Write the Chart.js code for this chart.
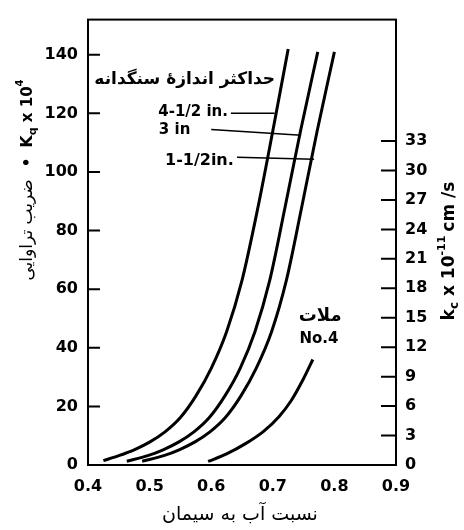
<!DOCTYPE html>
<html>
<head>
<meta charset="utf-8">
<script src="https://cdn.jsdelivr.net/npm/chart.js@4.4.0/dist/chart.umd.min.js"></script>
<style>
  html, body { margin: 0; padding: 0; background: #fff; }
</style>
</head>
<body>
<canvas id="grafica" width="464" height="530"></canvas>
<script>
// valores (relacion agua/cemento vs Kq x 10^4)
var aguaCemento412 = [0.425, 0.45, 0.475, 0.50, 0.525, 0.55, 0.575, 0.60, 0.625, 0.65, 0.675, 0.70, 0.725]
var kq412 = [1.5, 3.2, 5.2, 7.8, 11.3, 16.2, 23.5, 33, 45.5, 63, 87, 114, 142]

var aguaCemento3 = [0.463, 0.497, 0.522, 0.547, 0.572, 0.597, 0.622, 0.647, 0.671, 0.695, 0.719, 0.745, 0.773]
var kq3 = [1.3, 3.2, 5.2, 7.8, 11.3, 16.2, 23.5, 33, 45.5, 63, 87, 114, 141]

var aguaCemento112 = [0.488, 0.523, 0.548, 0.573, 0.598, 0.623, 0.648, 0.673, 0.698, 0.722, 0.746, 0.772, 0.80]
var kq112 = [1.3, 3.2, 5.2, 7.8, 11.3, 16.2, 23.5, 33, 45.5, 63, 87, 114, 141]

var aguaCementoMortero = [0.595, 0.625, 0.655, 0.685, 0.71, 0.73, 0.75, 0.765]
var kqMortero = [1.2, 3.8, 7.2, 11.5, 16.5, 22, 29.5, 36]

// lineas guia de las etiquetas
var guia412X = [0.632, 0.703]
var guia412Y = [120, 120]
var guia3X = [0.60, 0.746]
var guia3Y = [114.5, 112.5]
var guia112X = [0.642, 0.767]
var guia112Y = [105, 104.3]

var ticksX = [0.4, 0.5, 0.6, 0.7, 0.8, 0.9]
var ticksKq = [0, 20, 40, 60, 80, 100, 120, 140]
var ticksKc = [0, 3, 6, 9, 12, 15, 18, 21, 24, 27, 30, 33]

var KQ_MAX = 152
var FACTOR_KC = 3.35

var FUENTE = "'DejaVu Sans', sans-serif"

function puntos(xs, ys) {
    var r = []
    for (let i = 0; i < xs.length; i++) {
        r.push({x: xs[i], y: ys[i]})
    }
    return r
}

function curva(xs, ys) {
    return {
        data: puntos(xs, ys),
        showLine: true,
        borderColor: '#000',
        borderWidth: 3,
        pointRadius: 0,
        cubicInterpolationMode: 'monotone',
        yAxisID: 'y'
    }
}

function guia(xs, ys) {
    return {
        data: puntos(xs, ys),
        showLine: true,
        borderColor: '#000',
        borderWidth: 1.5,
        pointRadius: 0,
        tension: 0,
        yAxisID: 'y'
    }
}

var etiquetas = [
    {texto: 'حداکثر اندازهٔ سنگدانه', x: 0.557, y: 131.5, alinear: 'center', tam: 17, peso: 'bold'},
    {texto: '4-1/2 in.', x: 0.514, y: 120.5, alinear: 'left', tam: 15, peso: 'bold'},
    {texto: '3 in', x: 0.515, y: 114.4, alinear: 'left', tam: 15, peso: 'bold'},
    {texto: '1-1/2in.', x: 0.525, y: 103.8, alinear: 'left', tam: 16, peso: 'bold'},
    {texto: 'ملات', x: 0.777, y: 50.8, alinear: 'center', tam: 18, peso: 'bold'},
    {texto: 'No.4', x: 0.775, y: 43, alinear: 'center', tam: 15, peso: 'bold'}
]

function dibujarPiezas(ctx, piezas, cx, cy) {
    var total = 0
    piezas.forEach(p => {
        ctx.font = (p.peso || 'bold') + ' ' + p.tam + 'px ' + FUENTE
        p.ancho = ctx.measureText(p.texto).width
        total += p.ancho + (p.hueco || 0)
    })
    var x = cx - total / 2
    piezas.forEach(p => {
        ctx.font = (p.peso || 'bold') + ' ' + p.tam + 'px ' + FUENTE
        ctx.fillText(p.texto, x, cy + (p.dy || 0))
        x += p.ancho + (p.hueco || 0)
    })
}

var marcoYTextos = {
    id: 'marcoYTextos',
    afterDraw: function (chart) {
        var ctx = chart.ctx
        var area = chart.chartArea
        var sx = chart.scales.x
        var sy = chart.scales.y
        var sy2 = chart.scales.y2
        ctx.save()
        ctx.strokeStyle = '#000'
        ctx.fillStyle = '#000'
        ctx.lineWidth = 2
        ctx.strokeRect(area.left, area.top, area.right - area.left, area.bottom - area.top)

        ctx.beginPath()
        ticksKq.forEach(v => {
            var py = sy.getPixelForValue(v)
            ctx.moveTo(area.left, py)
            ctx.lineTo(area.left + 12, py)
        })
        ticksKc.forEach(v => {
            var py = sy2.getPixelForValue(v)
            ctx.moveTo(area.right - 15, py)
            ctx.lineTo(area.right, py)
        })
        ctx.stroke()

        ctx.textBaseline = 'middle'
        etiquetas.forEach(e => {
            ctx.font = e.peso + ' ' + e.tam + 'px ' + FUENTE
            ctx.textAlign = e.alinear
            ctx.fillText(e.texto, sx.getPixelForValue(e.x), sy.getPixelForValue(e.y))
        })

        // titulo eje x
        ctx.textAlign = 'center'
        ctx.font = 'normal 19px ' + FUENTE
        ctx.fillText('نسبت آب به سیمان', 240, 515)

        // titulo eje izquierdo
        ctx.textAlign = 'left'
        ctx.save()
        ctx.translate(28, 180)
        ctx.rotate(-Math.PI / 2)
        dibujarPiezas(ctx, [
            {texto: 'ضریب تراوایی', tam: 17, peso: 'normal', hueco: 12},
            {texto: '•', tam: 15, hueco: 10},
            {texto: 'K', tam: 16},
            {texto: 'q', tam: 11, dy: 5},
            {texto: ' x 10', tam: 15},
            {texto: '4', tam: 10, dy: -8}
        ], 0, 0)
        ctx.restore()

        // titulo eje derecho
        ctx.save()
        ctx.translate(450, 251)
        ctx.rotate(-Math.PI / 2)
        dibujarPiezas(ctx, [
            {texto: 'k', tam: 17},
            {texto: 'c', tam: 12, dy: 5},
            {texto: ' x 10', tam: 17},
            {texto: '-11', tam: 11, dy: -8, hueco: 4},
            {texto: 'cm /s', tam: 17}
        ], 0, 0)
        ctx.restore()

        ctx.restore()
    }
}

var fuenteTicks = {family: FUENTE, size: 16, weight: 'bold'}

new Chart(document.getElementById('grafica').getContext('2d'), {
    type: 'scatter',
    data: {
        datasets: [
            curva(aguaCemento412, kq412),
            curva(aguaCemento3, kq3),
            curva(aguaCemento112, kq112),
            curva(aguaCementoMortero, kqMortero),
            guia(guia412X, guia412Y),
            guia(guia3X, guia3Y),
            guia(guia112X, guia112Y)
        ]
    },
    options: {
        responsive: false,
        animation: false,
        devicePixelRatio: 1,
        layout: {padding: {top: 12, left: 0, right: 0, bottom: 0}},
        plugins: {legend: {display: false}, tooltip: {enabled: false}},
        scales: {
            x: {
                type: 'linear',
                min: 0.4,
                max: 0.9,
                afterBuildTicks: function (eje) { eje.ticks = ticksX.map(v => ({value: v})) },
                afterFit: function (eje) { eje.height = 65 },
                grid: {display: false, drawTicks: false},
                border: {display: false},
                ticks: {
                    color: '#000',
                    font: fuenteTicks,
                    padding: 12,
                    maxRotation: 0,
                    callback: v => v.toFixed(1)
                }
            },
            y: {
                position: 'left',
                min: 0,
                max: KQ_MAX,
                afterBuildTicks: function (eje) { eje.ticks = ticksKq.map(v => ({value: v})) },
                afterFit: function (eje) { eje.width = 88 },
                grid: {display: false, drawTicks: false},
                border: {display: false},
                ticks: {color: '#000', font: fuenteTicks, padding: 10}
            },
            y2: {
                position: 'right',
                min: 0,
                max: KQ_MAX / FACTOR_KC,
                afterBuildTicks: function (eje) { eje.ticks = ticksKc.map(v => ({value: v})) },
                afterFit: function (eje) { eje.width = 68 },
                grid: {display: false, drawTicks: false},
                border: {display: false},
                ticks: {color: '#000', font: fuenteTicks, padding: 9}
            }
        }
    },
    plugins: [marcoYTextos]
});
</script>
</body>
</html>
